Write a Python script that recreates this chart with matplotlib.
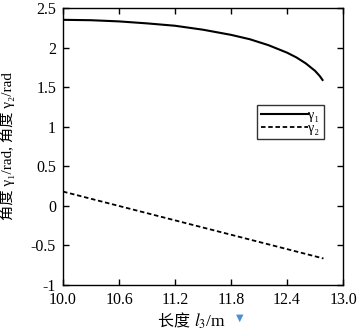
import matplotlib
matplotlib.use("Agg")
import matplotlib.pyplot as plt
from matplotlib.offsetbox import TextArea, HPacker, AnchoredOffsetbox

# data
l3_g1 = [10.0, 10.3, 10.6, 10.9, 11.2, 11.5, 11.8, 12.0, 12.2, 12.4, 12.5, 12.6, 12.7, 12.75, 12.78]
gamma1 = [2.35, 2.345, 2.33, 2.305, 2.275, 2.225, 2.16, 2.105, 2.03, 1.935, 1.875, 1.80, 1.705, 1.64, 1.59]
l3_g2 = [10.0, 12.79]
gamma2 = [0.18, -0.665]

xticks = [10.0, 10.6, 11.2, 11.8, 12.4, 13.0]
yticks = [-1, -0.5, 0, 0.5, 1, 1.5, 2, 2.5]

plt.rcParams['font.family'] = ['Liberation Serif', 'Noto Sans CJK SC', 'DejaVu Serif']
plt.rcParams['mathtext.fontset'] = 'stix'

fig = plt.figure(figsize=(3.57, 3.31), dpi=100)
ax = fig.add_axes([0.1765, 0.139, 0.7845, 0.837])

ax.plot(l3_g1, gamma1, color='black', lw=1.5, label='γ₁')
ax.plot(l3_g2, gamma2, color='black', lw=1.3, ls=(0, (2.5, 1.5)), label='γ₂')

ax.set_xlim(10.0, 13.0)
ax.set_ylim(-1, 2.5)
ax.set_xticks(xticks)
ax.set_xticklabels([f"{t:.1f}" for t in xticks])
ax.set_yticks(yticks)
ax.set_yticklabels([f"{t:g}" for t in yticks])
ax.tick_params(direction='in', top=True, right=True, labelsize=11.5, length=4, width=1, pad=5)
for s in ax.spines.values():
    s.set_linewidth(1)

# x label: mixed CJK + italic l3
parts = [TextArea('长度 ', textprops=dict(fontsize=11.5, family=['Noto Sans CJK SC'])),
         TextArea('$l_3$/m', textprops=dict(fontsize=12.5))]
box = HPacker(children=parts, align='baseline', pad=0, sep=0)
anch = AnchoredOffsetbox(loc='center', child=box, frameon=False,
                         bbox_to_anchor=(0.46, -0.13), bbox_transform=ax.transAxes,
                         borderpad=0, pad=0)
ax.add_artist(anch)

ax.set_ylabel('角度 γ₁/rad, 角度 γ₂/rad', fontsize=11)
ax.yaxis.set_label_coords(-0.17, 0.5)

leg = ax.legend(loc='upper left', bbox_to_anchor=(0.693, 0.65), fontsize=10,
                frameon=True, fancybox=False, edgecolor='black',
                handlelength=3.4, handletextpad=0.0, borderpad=0.3,
                labelspacing=0.0, borderaxespad=0)
leg.get_frame().set_linewidth(1)

# small blue marker under the x axis
fig.text(0.672, 0.04, '▼', color='#4a90d9', fontsize=7, ha='center', va='center',
         family='DejaVu Sans')

fig.savefig('out.png', dpi=100)
